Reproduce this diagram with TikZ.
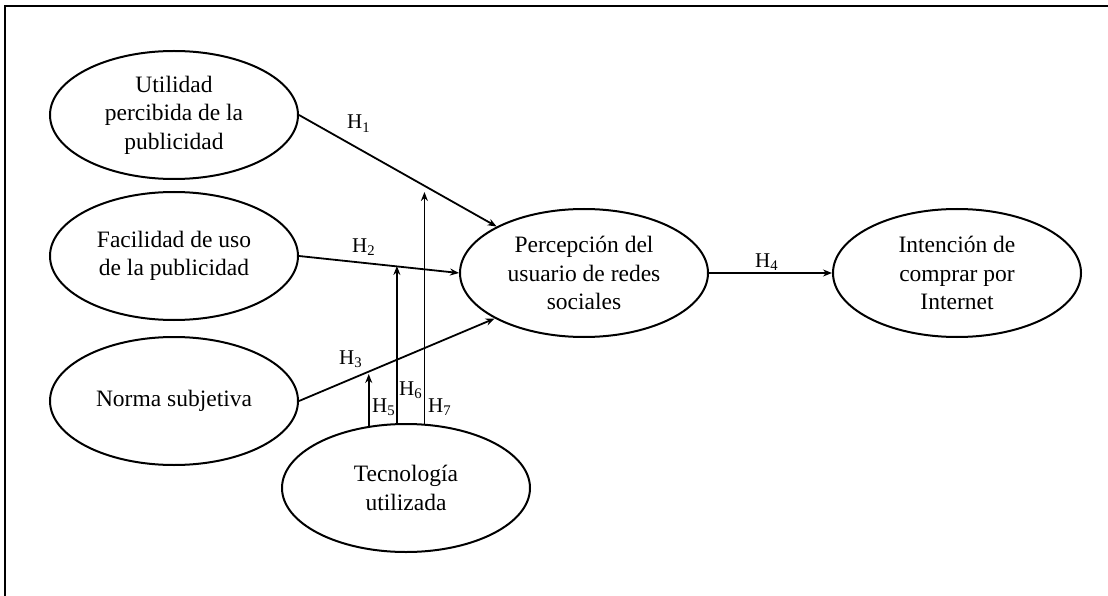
\documentclass[tikz,border=0pt]{standalone}
\usepackage{fontspec}
\setmainfont{Liberation Serif}
\usetikzlibrary{arrows.meta,shapes.geometric}
\begin{document}
\begin{tikzpicture}[x=1pt,y=-1pt,
  var/.style={draw,line width=2pt,ellipse,inner sep=0pt,minimum width=248pt,minimum height=128pt,align=center,font=\fontsize{23.5}{28.5}\selectfont},
  conn/.style={line width=1.8pt,-{Stealth[length=9pt,width=7pt]}},
  hlab/.style={anchor=base west,inner sep=0pt,font=\fontsize{21}{24}\selectfont}]
\useasboundingbox (0,0) rectangle (1108,596);
\draw[line width=1.8pt] (5,596) -- (5,6) -- (1108,6);
\node[var] (e1) at (174,115) {Utilidad\\percibida de la\\publicidad};
\node[var] (e2) at (174,256) {Facilidad de uso\\de la publicidad};
\node[var] (e3) at (174,401) {Norma subjetiva};
\node[var] (e4) at (584,273) {Percepción del\\usuario de redes\\sociales};
\node[var] (e5) at (957,273) {Intención de\\comprar por\\Internet};
\node[var] (e6) at (406,488) {Tecnología\\utilizada};
\coordinate (h5t) at (369,374);
\coordinate (h6t) at (397,266);
\coordinate (h7t) at (424,192);
\draw[conn] (e1.east) -- (e4.152);
\draw[conn] (e2.east) -- (e4.180);
\draw[conn] (e3.east) -- (e4.207);
\draw[conn] (e4.east) -- (e5.west);
\draw[conn] (e6.121) -- (e6.121 |- h5t);
\draw[conn] (e6.98) -- (e6.98 |- h6t);
\draw[conn] (e6.74) -- (e6.74 |- h7t);
\node[hlab] (l1) at (347,129) {H\textsubscript{1}};
\node[hlab] (l2) at (352,252) {H\textsubscript{2}};
\node[hlab] (l3) at (339,364) {H\textsubscript{3}};
\node[hlab] (l4) at (755,267) {H\textsubscript{4}};
\node[hlab] (l5) at (372,412) {H\textsubscript{5}};
\node[hlab] (l6) at (399,395) {H\textsubscript{6}};
\node[hlab] (l7) at (428,412) {H\textsubscript{7}};
\end{tikzpicture}
\end{document}
